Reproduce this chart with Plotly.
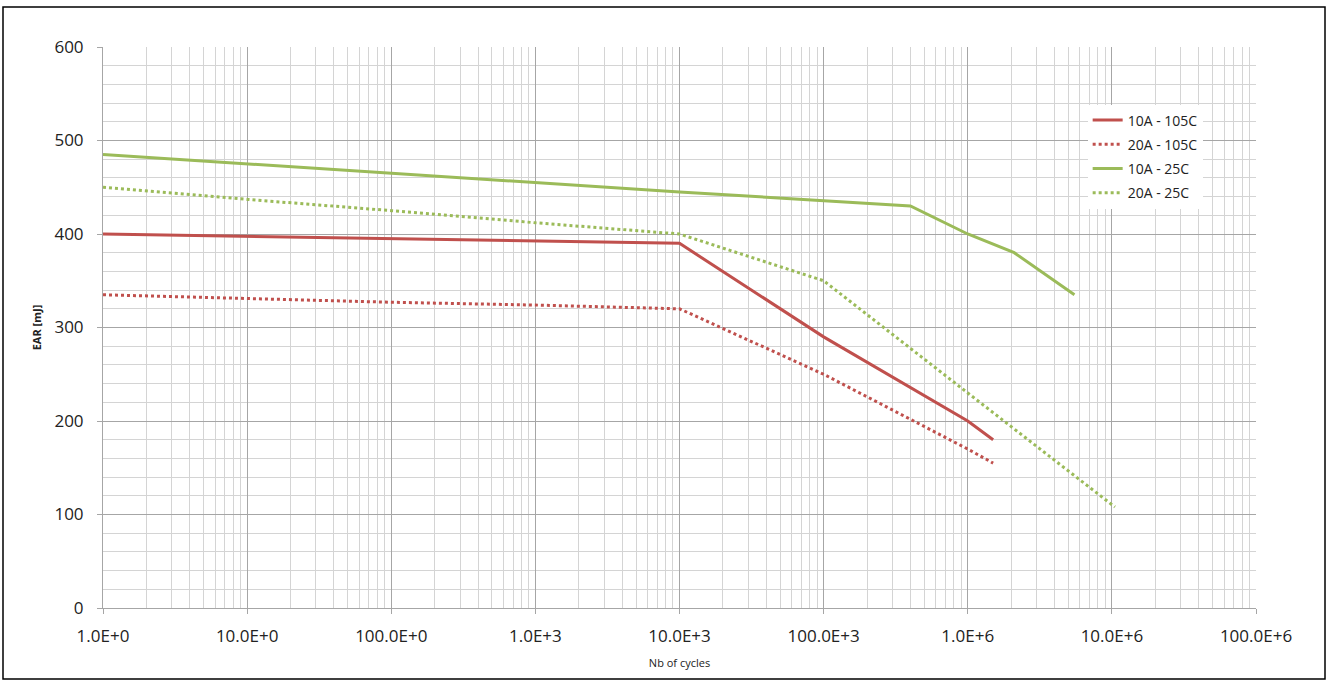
import plotly.graph_objects as go

# Data
x_10a_105 = [1, 10, 100, 1e3, 1e4, 1e5, 1e6, 1.5e6]
y_10a_105 = [400, 397.5, 395, 392.5, 390, 290, 200, 180]

x_20a_105 = [1, 10, 100, 1e3, 1e4, 1e5, 1e6, 1.5e6]
y_20a_105 = [335, 331, 327, 324, 320, 250, 170, 155]

x_10a_25 = [1, 10, 100, 1e3, 1e4, 4e5, 1e6, 2.1e6, 5.5e6]
y_10a_25 = [485, 475, 465, 455, 445, 430, 400, 380, 335]

x_20a_25 = [1, 10, 100, 1e3, 1e4, 1e5, 1e6, 1.05e7]
y_20a_25 = [450, 437, 425, 412, 400, 350, 230, 108]

x_tickvals = [1, 10, 100, 1e3, 1e4, 1e5, 1e6, 1e7, 1e8]
x_ticktext = ["1.0E+0", "10.0E+0", "100.0E+0", "1.0E+3", "10.0E+3",
              "100.0E+3", "1.0E+6", "10.0E+6", "100.0E+6"]

RED = "#C0504D"
GREEN = "#9BBB59"
FONT = "Open Sans"

fig = go.Figure()
series = [
    ("10A - 105C", x_10a_105, y_10a_105, RED, "solid"),
    ("20A - 105C", x_20a_105, y_20a_105, RED, "dot"),
    ("10A - 25C", x_10a_25, y_10a_25, GREEN, "solid"),
    ("20A - 25C", x_20a_25, y_20a_25, GREEN, "dot"),
]
for name, xs, ys, col, dash in series:
    fig.add_trace(go.Scatter(x=xs, y=ys, name=name, mode="lines",
                             legendgroup=name,
                             line=dict(color=col, width=3, dash=dash)))

fig.update_layout(
    width=1328, height=682,
    margin=dict(l=103, r=72, t=47, b=74),
    paper_bgcolor="white", plot_bgcolor="white",
    font=dict(family=FONT, color="#222"),
    legend=dict(x=0.854, y=0.8975, xanchor="left", yanchor="top",
                bgcolor="white", borderwidth=0,
                font=dict(size=14, family=FONT, color="#222"),
                tracegroupgap=3),
    xaxis=dict(
        type="log", range=[0, 8],
        tickvals=x_tickvals, ticktext=x_ticktext,
        tickfont=dict(size=17, family=FONT, color="#222"),
        showgrid=True, gridcolor="#a6a6a6", gridwidth=1,
        ticks="outside", ticklen=5, tickcolor="#a6a6a6",
        showline=True, linecolor="#a6a6a6", zeroline=False,
        ticklabelstandoff=8,
        minor=dict(dtick="D1", showgrid=True, gridcolor="#d4d4d4", ticks=""),
        title=dict(text="Nb of cycles", font=dict(size=11, family=FONT, color="#222"), standoff=12),
    ),
    yaxis=dict(
        range=[0, 600], dtick=100,
        tickfont=dict(size=17, family=FONT, color="#222"),
        showgrid=True, gridcolor="#a6a6a6", gridwidth=1,
        ticks="outside", ticklen=5, tickcolor="#a6a6a6",
        showline=True, linecolor="#a6a6a6", zeroline=False,
        ticklabelstandoff=10,
        minor=dict(dtick=20, showgrid=True, gridcolor="#d4d4d4", ticks=""),
        title=dict(text="<b>EAR [mJ]</b>", font=dict(size=11, family=FONT, color="#222"), standoff=10),
    ),
)

fig.add_shape(type="rect", xref="paper", yref="paper",
              x0=(3 - 103) / 1153, x1=(1325 - 103) / 1153,
              y0=(608 - 679) / 561, y1=(608 - 7) / 561,
              line=dict(color="black", width=1.5), fillcolor="rgba(0,0,0,0)",
              layer="below")

fig.write_html("out.html", config={"displayModeBar": False},
               post_script="document.body.style.margin='0';")
